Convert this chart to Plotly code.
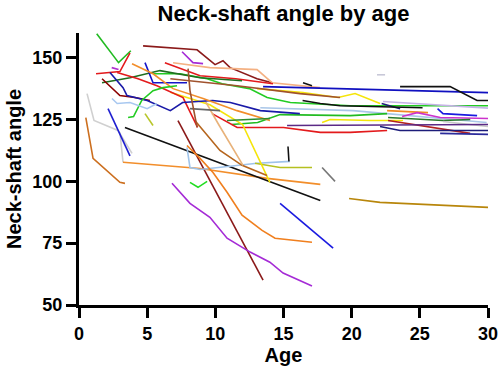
import plotly.graph_objects as go

# Each series: (name, color, ages, angles)
series = [
    ("s01", "#22bb22", [1.3, 2.9, 3.8], [159.7, 148.0, 152.8]),
    ("s02", "#e31a1c", [1.25, 3.0, 3.74], [143.5, 144.4, 152.0]),
    ("s03", "#8b1a1a", [4.7, 8.66, 9.98, 10.56, 11.08, 13.06, 14.16], [154.8, 153.2, 147.2, 148.8, 146.0, 141.5, 139.9]),
    ("s04", "#a52bd6", [7.56, 8.36, 9.1], [152.4, 148.0, 147.6]),
    ("s05", "#f4b183", [6.9, 9.6, 13.06, 14.16, 17.68], [148.0, 146.0, 145.2, 139.9, 137.9]),
    ("s06", "#e31a1c", [6.3, 8.88, 11.5, 14.23], [148.0, 142.7, 141.5, 139.5]),
    ("s07", "#1010c0", [13.5, 19.15, 30.0], [138.3, 137.5, 135.9]),
    ("s08", "#111111", [23.55, 27.22, 29.2, 30.0], [138.3, 138.3, 132.7, 132.7]),
    ("s09", "#111111", [16.43, 17.09], [139.9, 138.7]),
    ("s10", "#f5e50a", [13.06, 16.43, 19.0, 20.25, 22.08], [137.5, 135.9, 133.9, 135.5, 131.5]),
    ("s11", "#22cc22", [5.43, 7.41, 9.4, 10.5, 12.5, 13.8, 15.5, 19.9, 30.0], [143.5, 143.5, 141.5, 139.5, 137.5, 133.9, 131.9, 130.6, 130.6]),
    ("s12", "#c5b3e6", [22.3, 30.0], [132.3, 129.6]),
    ("s13", "#1c1c7a", [22.2, 23.55], [131.5, 129.4]),
    ("s14", "#111111", [16.4, 17.7, 19.15, 25.2], [132.7, 131.5, 130.6, 129.8]),
    ("s15", "#a9c6e8", [13.3, 20.1, 29.9], [129.8, 128.6, 123.8]),
    ("s16", "#f08a24", [22.6, 25.6], [128.6, 127.8]),
    ("s17", "#cc33cc", [23.7, 24.8, 26.5, 30.0], [126.2, 127.8, 125.8, 125.4]),
    ("s18", "#1a1adf", [26.3, 26.7, 29.2], [129.4, 127.4, 126.6]),
    ("s19", "#2a7a2a", [22.67, 26.7, 28.7], [125.8, 124.6, 125.0]),
    ("s20", "#c8c8c8", [26.7, 30.0], [124.2, 122.2]),
    ("s21", "#22bb22", [11.2, 13.1, 14.75, 19.9, 22.6], [123.0, 123.8, 127.0, 126.6, 127.4]),
    ("s22", "#f5e50a", [17.83, 18.42, 21.35, 23.77], [123.8, 125.0, 124.6, 124.6]),
    ("s23", "#b22222", [22.67, 28.69], [124.6, 119.4]),
    ("s24", "#5b2a86", [15.26, 30.0], [122.6, 123.0]),
    ("s25", "#1c1c7a", [22.08, 23.55, 30.0], [122.2, 120.6, 120.6]),
    ("s26", "#2b2b9b", [26.49, 30.0], [119.4, 119.0]),
    ("s27", "#e31a1c", [9.76, 11.6, 15.0, 17.7, 19.9, 22.6], [127.4, 121.8, 121.8, 119.8, 119.8, 120.6]),
    ("s28", "#b8860b", [19.81, 22.08, 30.0], [93.1, 91.5, 89.5]),
    ("s29", "#cc6f1f", [0.5, 1.03, 3.0, 3.37], [125.8, 109.3, 99.6, 99.2]),
    ("s30", "#d0d0d0", [0.59, 1.1, 2.86, 3.89], [135.5, 124.6, 120.6, 111.3]),
    ("s31", "#d0d0d0", [3.0, 3.23], [119.8, 107.7]),
    ("s32", "#f28e2b", [3.23, 8.88, 13.8, 17.7], [107.7, 105.2, 101.2, 98.8]),
    ("s33", "#1f1fd0", [2.13, 3.74], [129.4, 110.3]),
    ("s34", "#111111", [3.37, 17.7], [121.8, 92.3]),
    ("s35", "#8b1a1a", [7.26, 13.5], [124.6, 60.1]),
    ("s36", "#a52bd6", [6.82, 8.14, 9.6, 10.86, 12.55, 14.0, 14.97, 17.09], [99.2, 91.1, 85.5, 77.0, 71.4, 67.3, 62.9, 57.7]),
    ("s37", "#22dd22", [8.14, 8.73, 9.4], [99.6, 97.6, 100.0]),
    ("s38", "#9fc3ea", [7.92, 8.14, 8.88, 13.06, 15.48], [113.7, 105.6, 104.8, 107.3, 108.1]),
    ("s39", "#b5c020", [12.91, 14.75, 17.09], [107.3, 105.6, 105.6]),
    ("s40", "#111111", [15.33, 15.4], [114.1, 108.1]),
    ("s41", "#777777", [17.83, 18.78], [105.6, 100.0]),
    ("s42", "#1a1ae0", [14.75, 18.64], [91.1, 73.0]),
    ("s43", "#f07f1e", [7.92, 8.88, 9.83, 10.86, 11.96, 13.43, 14.38, 17.09], [114.5, 109.3, 103.6, 95.6, 86.3, 80.2, 77.0, 75.4]),
    ("s44", "#f5e50a", [6.7, 9.6, 12.0, 14.0], [136.0, 131.0, 123.0, 99.6]),
    ("s45", "#b5651d", [8.5, 10.34, 11.96, 13.79], [124.6, 112.5, 106.5, 102.4]),
    ("s46", "#e8b27a", [9.24, 10.2, 12.03], [132.7, 123.4, 106.5]),
    ("s47", "#1f6e1f", [1.69, 3.74, 5.94, 8.88, 11.96], [139.9, 141.9, 144.8, 141.9, 140.7]),
    ("s48", "#8b0000", [1.69, 2.5, 3.0, 4.1, 5.2], [141.5, 137.5, 134.7, 133.9, 132.7]),
    ("s49", "#e31a1c", [2.8, 4.33, 5.72, 7.63, 8.7], [144.0, 141.5, 138.7, 133.9, 121.8]),
    ("s50", "#1a1aa8", [2.27, 3.23, 3.52, 5.0, 6.7, 7.6, 9.8, 11.1, 13.3, 16.2], [144.0, 137.9, 134.7, 132.7, 128.6, 131.9, 132.7, 131.9, 128.6, 127.4]),
    ("s51", "#1515c8", [4.84, 5.43, 7.92], [148.0, 139.9, 139.9]),
    ("s52", "#f28e2b", [3.89, 5.43, 6.9, 9.1, 11.59, 14.01], [147.6, 143.5, 137.5, 133.5, 128.6, 124.6]),
    ("s53", "#22cc22", [3.6, 4.0, 4.6, 5.43, 6.16, 7.19], [125.8, 126.2, 132.7, 136.7, 137.9, 138.7]),
    ("s54", "#b8c62a", [4.84, 5.43], [127.4, 122.6]),
    ("s55", "#a8c8f0", [2.42, 2.8, 3.74, 5.0, 5.72], [133.5, 131.5, 131.9, 129.4, 131.5]),
    ("s56", "#b030d0", [2.4, 2.9], [146.0, 145.2]),
    ("s57", "#c8c8d8", [21.86, 22.45], [143.1, 143.1]),
    ("s58", "#666666", [8.14, 10.34], [129.4, 128.6]),
    ("s59", "#a0522d", [6.7, 11.6, 16.2, 19.15], [141.5, 138.7, 135.5, 133.9]),
    ("s60", "#2e8b2e", [10.86, 14.01], [124.6, 125.4]),
    ("s61", "#a0522d", [8.0, 8.14, 8.66], [145.6, 136.7, 121.8]),
]

x_ticks = [0, 5, 10, 15, 20, 25, 30]
y_ticks = [50, 75, 100, 125, 150]

fig = go.Figure()
for name, color, ages, angles in series:
    fig.add_trace(go.Scatter(x=ages, y=angles, mode="lines", name=name,
                             line=dict(color=color, width=1.6), showlegend=False,
                             hoverinfo="skip"))

font_family = "Liberation Sans, Arial, sans-serif"
fig.update_layout(
    width=500, height=372,
    margin=dict(l=79, r=12, t=33, b=67, autoexpand=False),
    paper_bgcolor="white", plot_bgcolor="white",
    title=dict(text="<b>Neck-shaft angle by age</b>", x=0.567,
               xanchor="center", y=0.965, yanchor="middle",
               font=dict(family=font_family, size=22, color="black")),
    font=dict(family=font_family, color="black"),
)
fig.update_xaxes(range=[0, 30], tickvals=x_ticks, ticktext=[str(v) for v in x_ticks],
                 showline=True, linewidth=3, linecolor="black", ticks="outside",
                 ticklen=10, tickwidth=2.5, tickcolor="black", showgrid=False, zeroline=False,
                 tickfont=dict(size=18, family=font_family, color="black", weight="bold"),
                 title=dict(text="<b>Age</b>", font=dict(size=20, family=font_family), standoff=2))
fig.update_yaxes(range=[50, 160], tickvals=y_ticks, ticktext=[str(v) for v in y_ticks],
                 showline=True, linewidth=3, linecolor="black", ticks="outside",
                 ticklen=10, tickwidth=2.5, tickcolor="black", showgrid=False, zeroline=False,
                 tickfont=dict(size=18, family=font_family, color="black", weight="bold"),
                 title=dict(text="<b>Neck-shaft angle</b>", font=dict(size=20, family=font_family), standoff=6))

fig.write_html("out.html", config={"displayModeBar": False},
               post_script="document.body.style.margin='0';document.body.style.padding='0';")
